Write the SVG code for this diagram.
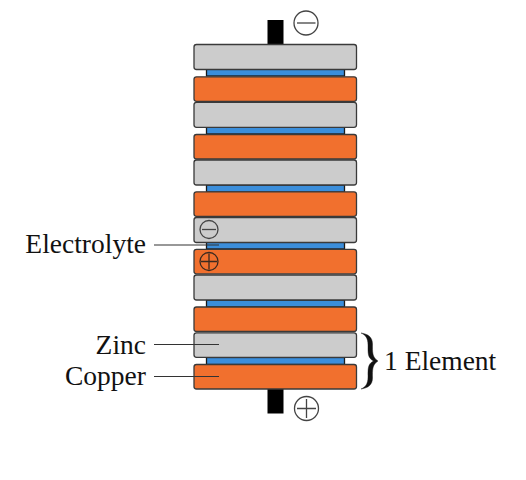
<svg xmlns="http://www.w3.org/2000/svg" width="526" height="480" viewBox="0 0 526 480">
<style>
.p{stroke:#3a3a3a;stroke-width:1.3}
.z{fill:#cccccc}
.c{fill:#f1702e}
.e{fill:#3b8edb;stroke:#1a1a1a;stroke-width:1.3}
.l{stroke:#333;stroke-width:1.2;fill:none}
.s{fill:none;stroke:#444;stroke-width:1.3}
text{font-family:"Liberation Serif","Times New Roman",serif;font-size:27.500px;fill:#111}
</style>
<rect width="526" height="480" fill="#fff"/>
<g id="terminals">
<rect id="terminal-top" x="267.500" y="20" width="16" height="24.500" fill="#000"/>
<rect id="terminal-bottom" x="267.500" y="389" width="16" height="24.500" fill="#000"/>
</g>
<g id="electrolytes">
<rect class="e" x="206.500" y="69" width="138" height="7"/>
<rect class="e" x="206.500" y="127" width="138" height="7"/>
<rect class="e" x="206.500" y="185" width="138" height="7"/>
<rect class="e" x="206.500" y="242" width="138" height="7"/>
<rect class="e" x="206.500" y="300" width="138" height="7"/>
<rect class="e" x="206.500" y="357.500" width="138" height="7"/>
</g>
<g id="plates">
<rect id="zinc-1" class="p z" x="194" y="44.500" width="162.500" height="25" rx="2.500"/>
<rect id="copper-1" class="p c" x="194" y="76.800" width="162.500" height="24.500" rx="2.500"/>
<rect id="zinc-2" class="p z" x="194" y="102.300" width="162.500" height="25" rx="2.500"/>
<rect id="copper-2" class="p c" x="194" y="134.500" width="162.500" height="24.500" rx="2.500"/>
<rect id="zinc-3" class="p z" x="194" y="160" width="162.500" height="25" rx="2.500"/>
<rect id="copper-3" class="p c" x="194" y="191.800" width="162.500" height="24.500" rx="2.500"/>
<rect id="zinc-4" class="p z" x="194" y="217.500" width="162.500" height="25" rx="2.500"/>
<rect id="copper-4" class="p c" x="194" y="249.300" width="162.500" height="24.500" rx="2.500"/>
<rect id="zinc-5" class="p z" x="194" y="275" width="162.500" height="25" rx="2.500"/>
<rect id="copper-5" class="p c" x="194" y="307" width="162.500" height="24.500" rx="2.500"/>
<rect id="zinc-6" class="p z" x="194" y="332.800" width="162.500" height="24.500" rx="2.500"/>
<rect id="copper-6" class="p c" x="194" y="364.500" width="162.500" height="24.500" rx="2.500"/>
</g>
<g id="signs">
<g id="sign-minus-top" class="s"><circle cx="306" cy="23" r="12"/><path d="M297 23H315.500"/></g>
<g id="sign-plus-bottom" class="s"><circle cx="306.500" cy="408.500" r="12"/><path d="M297 408.500H316M306.500 399V418"/></g>
<g id="sign-minus-inner" class="s"><circle cx="209" cy="229.500" r="9"/><path d="M202 229.500H216"/></g>
<g id="sign-plus-inner" class="s" style="stroke:#3a2a20"><circle cx="209" cy="261.500" r="9"/><path d="M201 261.500H217M209 253.500V269.500"/></g>
</g>
<g id="connectors">
<path class="l" d="M154 245H219"/>
<path class="l" d="M154 344.500H219"/>
<path class="l" d="M154 376.500H219"/>
<path id="brace" d="M361 333C368 334 372.500 337 372.500 344C372.500 352 372 357 378 361C372 365 372.500 370 372.500 378C372.500 385 368 388 361 389C365.500 387 368 384 368 377C368 369 367.500 364 373.500 361C367.500 358 368 353 368 345C368 338 365.500 335 361 333Z" fill="#111" stroke="#111" stroke-width=".4"/>
</g>
<g id="labels">
<text x="146" y="253" text-anchor="end">Electrolyte</text>
<text x="146" y="353.500" text-anchor="end">Zinc</text>
<text x="146" y="384.500" text-anchor="end">Copper</text>
<text x="384" y="370">1 Element</text>
</g>
</svg>
